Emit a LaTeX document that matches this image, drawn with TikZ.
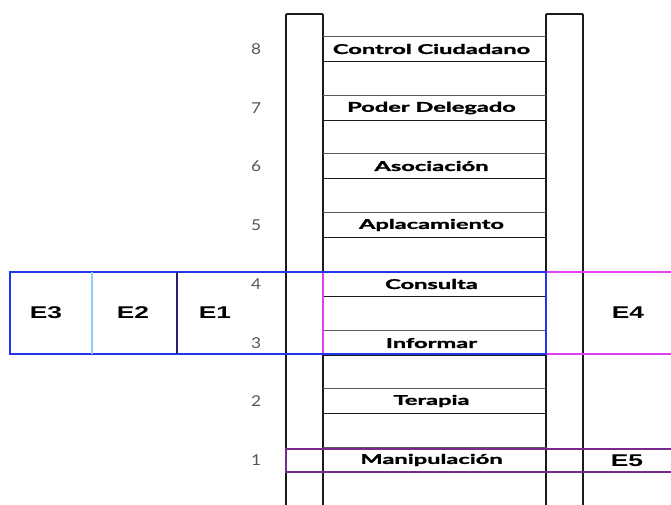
\documentclass[tikz,border=0pt]{standalone}
\usepackage{fontspec}
\newfontfamily\rungfont[FakeBold=1.3]{Lato Bold}
\newfontfamily\numfont{Lato}
\newfontfamily\efont[FakeStretch=1.55]{Liberation Sans Bold}
\newcommand\widetext[1]{\scalebox{1.75}[1]{#1}}
\newcommand\widenum[1]{\scalebox{1.15}[1]{#1}}
\definecolor{eblue}{HTML}{2236F0}
\definecolor{elight}{HTML}{8CCDF2}
\definecolor{enavy}{HTML}{2A1F78}
\definecolor{emag}{HTML}{E040F0}
\definecolor{epurp}{HTML}{7A2A8C}
\definecolor{railc}{HTML}{1A1A1A}
\definecolor{numc}{HTML}{555555}
\tikzset{
  rail/.style={draw=railc, line width=1.9pt, rounded corners=1pt},
  rung/.style={minimum width=223pt, minimum height=24pt, inner sep=0pt},
  rlabel/.style={inner sep=0pt, font=\rungfont\fontsize{13.5}{13.5}\selectfont},
  rungtop/.style={draw=gray!70!black, line width=0.9pt},
  rungbot/.style={draw=railc, line width=1.4pt},
  num/.style={inner sep=0pt, font=\numfont\fontsize{15}{15}\selectfont, text=numc},
  elab/.style={inner sep=0pt, font=\efont\fontsize{17}{17}\selectfont}
}
\begin{document}
\begin{tikzpicture}[x=1pt,y=-1pt]
\useasboundingbox (0,0) rectangle (671,504);
\clip (0,0) rectangle (671,504);
% rails
\draw[rail] (286,510) -- (286,14) -- (323,14) -- (323,510);
\draw[rail] (546,510) -- (546,14) -- (583,14) -- (583,510);
% rungs
\foreach \n/\y/\t in {8/49/Control Ciudadano, 7/108/Poder Delegado, 6/166/Asociación, 5/225/Aplacamiento, 4/284/Consulta, 3/343/Informar, 2/401/Terapia, 1/460/Manipulación}{
  \node[rung] (r\n) at (434.5,\y) {};
  \node[rlabel] (l\n) at ([xshift=-3pt]r\n.center) {\widetext{\t}};
  \draw[rungtop] (r\n.north west) -- (r\n.north east);
  \draw[rungbot] (r\n.south west) -- (r\n.south east);
  \node[num] (n\n) at (256,\y) {\widenum{\n}};
}
% E4 magenta box
\draw[emag, line width=2pt] (700,272) -- (323,272) -- (323,354) -- (700,354);
\node[elab] (e4) at (628,313) {E4};
% E1-E3 blue box
\node[draw=eblue, line width=2.4pt, minimum width=536pt, minimum height=82pt, inner sep=0pt] (eb) at (278,313) {};
\draw[elight, line width=2.2pt] (92,272) -- (92,354);
\draw[enavy, line width=2.2pt] (177,272) -- (177,354);
\node[elab] (e3) at (46,313) {E3};
\node[elab] (e2) at (133,313) {E2};
\node[elab] (e1) at (215,313) {E1};
% E5 purple box
\draw[epurp, line width=1.8pt] (700,449) -- (286,449) -- (286,472) -- (700,472);
\node[elab] (e5) at (627,461) {E5};
\end{tikzpicture}
\end{document}
